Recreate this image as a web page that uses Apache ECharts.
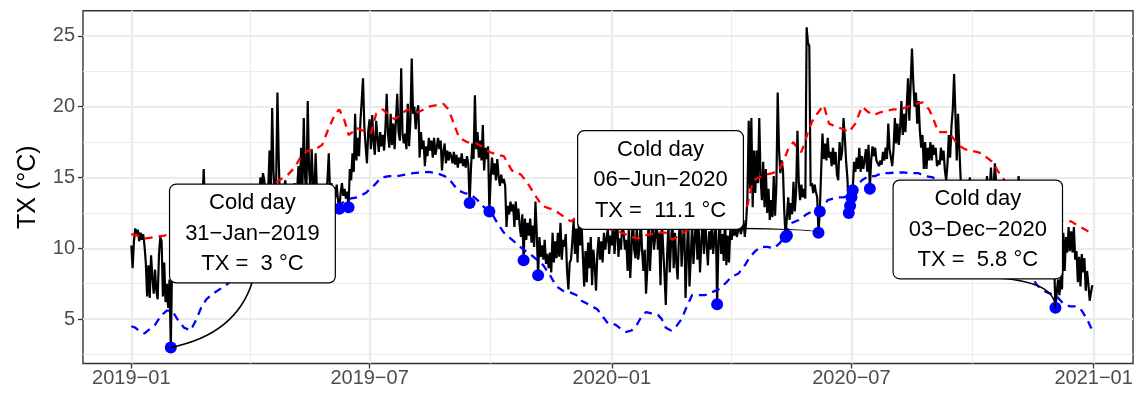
<!DOCTYPE html>
<html>
<head>
<meta charset="utf-8">
<script src="https://cdn.jsdelivr.net/npm/echarts@6/dist/echarts.min.js"></script>
<style>
  html, body { margin: 0; padding: 0; background: #fff; }
  #chart { width: 1140px; height: 394px; }
</style>
</head>
<body>
<div id="chart"></div>
<script>
// daily maximum temperature, one value per day from 2019-01-01
const tx2019 = [
  10.2, 8.6, 10.5, 11.4, 11.0, 11.3, 10.5, 11.1, 10.6, 11.0, 10.2, 9.0, 6.6, 8.8, 6.5, 9.5, 8.0, 6.8, 8.5, 7.0, 6.4, 9.5, 10.8, 10.5, 6.6, 9.0, 6.2, 7.5, 5.8, 7.8, 3.0,
  9.0, 10.5, 11.2, 9.8, 10.6, 12.0, 11.4, 9.6, 10.2, 11.8, 12.5, 11.0, 10.4, 9.7, 11.3, 12.2, 13.0, 11.6, 10.8, 12.4, 13.6, 12.1, 11.5, 13.2, 15.6, 12.8, 11.9, 12.6,
  11.5, 12.8, 10.9, 9.8, 11.2, 12.6, 13.4, 12.0, 10.7, 11.9, 13.1, 12.3, 9.9, 10.8, 12.7, 13.8, 12.9, 11.4, 10.6, 12.2, 13.5, 14.1, 12.6, 11.8, 13.0, 14.2, 13.3, 12.1, 11.0, 12.4, 13.7,
  12.5, 13.6, 12.2, 11.4, 12.9, 14.0, 13.2, 12.6, 15.0, 14.2, 15.3, 14.8, 13.5, 12.8, 14.1, 16.9, 13.9, 19.9, 15.4, 13.6, 14.5, 21.0, 16.2, 13.0, 12.4, 13.8, 14.3, 14.8, 13.6, 14.2,
  13.2, 14.5, 12.6, 13.9, 14.6, 13.1, 14.2, 15.8, 14.0, 17.1, 14.3, 19.2, 15.0, 13.8, 20.4, 15.6, 14.2, 17.0, 14.6, 13.2, 16.7, 14.1, 13.5, 12.8, 14.4, 13.6, 12.9, 14.2, 13.7, 14.8, 16.7,
  13.9, 14.6, 13.2, 14.3, 13.6, 14.5, 13.4, 12.8, 13.9, 14.6, 13.7, 14.2, 13.5, 14.0, 12.9, 15.6, 14.8, 16.7, 15.4, 19.5, 16.2, 17.8, 16.5, 18.9, 20.4, 22.0, 18.6, 17.2, 16.0, 18.3,
  19.1, 17.0, 19.4, 17.5, 16.6, 19.0, 17.8, 16.8, 18.2, 17.2, 18.0, 16.9, 18.4, 20.9, 18.0, 17.1, 19.5, 17.3, 18.8, 17.0, 19.0, 20.9, 18.2, 17.6, 22.7, 18.1, 17.4, 18.1, 17.0, 20.2, 17.2,
  19.0, 23.4, 19.5, 20.0, 18.4, 19.6, 20.1, 16.4, 18.2, 17.0, 17.6, 15.8, 17.2, 16.5, 17.8, 16.9, 17.6, 16.4, 17.8, 16.6, 17.1, 17.8, 17.0, 17.6, 15.5, 16.8, 17.4, 16.0, 16.9, 16.2, 16.8,
  16.5, 16.0, 16.8, 15.9, 16.6, 15.7, 16.4, 16.0, 16.7, 15.8, 16.3, 15.7, 16.5, 15.9, 13.2, 15.6, 17.4, 16.3, 20.8, 17.0, 18.2, 16.4, 17.6, 16.2, 18.7, 15.5, 17.1, 16.3, 17.2, 12.6,
  15.0, 16.4, 15.2, 16.0, 14.8, 16.3, 15.1, 14.4, 15.2, 14.6, 14.9, 14.4, 11.5, 13.0, 12.4, 13.3, 12.6, 13.1, 11.5, 13.3, 12.0, 12.8, 11.6, 10.8, 12.4, 9.15, 12.1, 10.6, 11.8, 10.9, 12.1,
  10.4, 11.6, 10.1, 13.3, 11.0, 8.1, 10.8, 9.4, 10.2, 9.2, 10.6, 8.9, 9.6, 8.6, 9.7, 8.3, 11.1, 9.0, 10.5, 9.3, 11.1, 9.4, 11.8, 9.2, 10.6, 10.1, 11.0, 8.4, 7.1, 9.0,
  9.2, 10.5, 12.0, 9.6, 11.4, 9.0, 12.1, 10.2, 11.8, 9.5, 7.3, 9.8, 7.6, 10.4, 8.6, 10.8, 7.4, 9.9, 8.8, 7.0, 9.6, 10.8, 9.2, 10.5, 9.0, 11.1, 9.9, 10.7, 11.4, 9.6, 10.9
];
const tx2020 = [
  10.2, 12.3, 9.6, 10.8, 12.6, 9.4, 10.7, 9.9, 12.0, 11.1, 9.9, 10.6, 8.4, 11.8, 7.9, 10.0, 12.4, 9.9, 9.3, 11.6, 9.2, 9.9, 12.2, 9.8, 8.4, 9.9, 6.8, 8.6, 12.5, 8.4, 10.6,
  11.8, 9.9, 10.8, 12.4, 9.9, 11.1, 7.4, 12.1, 10.0, 8.2, 6.0, 9.5, 11.6, 8.3, 10.4, 12.2, 8.6, 11.1, 9.0, 7.8, 10.9, 12.4, 8.7, 10.6, 11.8, 6.5, 9.4, 12.3, 7.3,
  9.4, 11.8, 8.9, 10.6, 12.3, 9.2, 11.5, 8.3, 10.4, 12.0, 9.6, 11.9, 10.3, 8.8, 11.2, 9.9, 12.1, 9.6, 10.8, 11.7, 6.05, 10.4, 12.2, 9.6, 11.0, 9.1, 12.4, 8.8, 10.9, 9.0, 11.3,
  10.6, 11.4, 10.9, 11.5, 10.8, 11.3, 11.6, 11.0, 11.4, 12.0, 10.8, 11.8, 13.5, 19.0, 14.2, 19.2, 12.9, 16.9, 13.9, 16.9, 14.6, 19.2, 15.0, 13.4, 16.1, 12.9, 15.6, 12.5, 14.2, 12.0,
  13.4, 12.2, 15.1, 12.3, 14.4, 21.0, 17.0, 15.3, 16.2, 15.5, 12.6, 10.8, 10.9, 13.6, 12.0, 13.2, 12.4, 14.7, 12.6, 14.0, 18.3, 14.7, 13.4, 14.5, 13.6, 14.2, 13.5, 25.6, 24.5, 24.3, 14.4,
  14.6, 13.9, 14.5, 14.0, 13.6, 11.1, 12.6, 15.4, 18.1, 16.3, 17.4, 16.2, 17.8, 16.4, 16.8, 15.8, 17.1, 15.9, 16.8, 15.2, 14.8, 17.5, 16.2, 16.9, 19.2, 17.8, 16.1, 14.9, 12.5, 13.0,
  13.6, 14.1, 16.1, 15.4, 16.4, 15.6, 17.1, 15.4, 16.5, 15.6, 16.2, 17.0, 15.4, 17.3, 14.2, 16.2, 17.2, 16.5, 17.1, 16.2, 16.0, 15.8, 16.2, 15.9, 16.8, 16.2, 17.1, 16.3, 18.8, 17.0, 17.1,
  15.8, 17.0, 19.2, 17.4, 18.8, 17.3, 18.5, 20.4, 18.0, 19.5, 18.2, 20.0, 22.0, 19.0, 21.6, 24.1, 21.7, 20.0, 21.0, 18.8, 20.4, 18.3, 17.1, 18.0, 15.6, 17.5, 15.6, 17.1, 16.2, 17.5, 16.2,
  17.3, 16.6, 17.1, 15.8, 16.2, 15.9, 17.1, 16.2, 16.9, 15.5, 14.8, 16.0, 18.0, 16.4, 18.6, 19.8, 22.3, 19.5, 16.2, 19.5, 17.0, 14.9, 13.8, 12.9, 14.2, 13.1, 12.4, 14.0, 15.0, 13.6,
  12.8, 14.1, 13.2, 12.4, 13.8, 14.4, 13.0, 12.2, 13.5, 14.2, 13.1, 15.1, 13.4, 14.0, 15.7, 13.8, 14.3, 16.0, 14.5, 13.2, 12.6, 13.7, 12.1, 11.5, 12.8, 13.4, 12.0, 11.2, 12.5, 13.1, 11.8,
  12.6, 13.4, 12.1, 13.0, 15.1, 12.8, 11.6, 12.4, 11.2, 10.6, 11.8, 12.3, 10.9, 11.5, 10.2, 11.0, 12.0, 10.8, 9.9, 10.6, 11.4, 10.1, 9.6, 10.4, 11.1, 9.8, 10.3, 9.4, 10.0, 9.2,
  9.6, 8.9, 5.8, 6.9, 7.8, 6.7, 8.0, 7.1, 11.1, 8.4, 10.8, 9.7, 11.5, 9.8, 11.2, 9.7, 11.5, 9.2, 9.8, 7.6, 9.4, 7.3, 9.6, 8.3, 9.3, 7.0, 8.4, 7.5, 6.3, 6.9, 7.4
];

// thresholds: [day of year, value]
const upper2019 = [[0,11.0],[5,10.9],[11,10.7],[18,10.8],[25,10.9],[31,11.0],[36,11.1],[41,11.1],[46,10.7],[51,10.9],[56,11.2],[62,11.4],[70,11.7],[78,12.0],[86,12.3],[94,12.7],[100,13.3],[104,14.0],[109,14.6],[114,14.9],[119,15.2],[124,15.7],[129,16.5],[134,16.9],[140,17.0],[145,17.3],[150,18.5],[155,19.5],[158,19.8],[162,19.0],[165,18.0],[168,18.2],[171,18.5],[176,18.3],[182,18.1],[186,19.5],[191,19.8],[196,19.4],[200,19.1],[205,19.5],[210,19.8],[218,19.6],[226,20.0],[232,20.1],[237,20.2],[241,19.8],[245,18.8],[249,17.8],[255,17.5],[262,17.4],[268,17.1],[272,16.8],[278,16.6],[283,16.5],[289,15.5],[296,15.2],[301,14.6],[305,14.0],[312,13.0],[318,12.8],[323,12.6],[329,12.2],[334,11.9],[338,12.2],[343,11.9],[348,11.7],[353,11.5],[358,11.5],[363,11.4]];
const upper2020 = [[0,11.3],[5,11.2],[10,11.0],[15,10.8],[20,10.7],[25,10.9],[30,11.0],[36,11.1],[41,11.1],[46,10.6],[51,10.9],[56,11.2],[62,11.5],[70,11.7],[78,12.0],[86,12.3],[94,12.6],[100,12.9],[103,13.0],[106,14.3],[108,14.8],[112,15.0],[117,15.2],[122,15.3],[127,15.5],[131,16.3],[134,17.0],[138,17.5],[141,17.0],[144,16.8],[147,17.6],[150,18.5],[153,19.1],[156,19.5],[161,20.1],[165,18.8],[170,18.6],[176,18.4],[180,18.2],[185,18.8],[190,20.0],[195,19.6],[199,19.4],[204,19.6],[208,19.7],[214,19.8],[219,19.8],[225,20.0],[231,20.2],[236,20.3],[241,19.8],[244,19.2],[248,18.2],[252,18.2],[256,18.2],[263,17.3],[268,17.0],[272,16.9],[277,16.8],[281,16.7],[285,16.4],[289,16.1],[295,15.2],[300,14.6],[305,14.0],[312,13.0],[318,12.8],[323,12.6],[329,12.3],[334,12.0],[339,12.0],[344,11.9],[349,11.9],[354,11.6],[360,11.3],[365,11.0]];
const lower2019 = [[0,4.5],[3,4.4],[7,4.1],[10,4.0],[14,4.3],[18,4.6],[23,5.3],[27,5.6],[31,5.6],[35,5.0],[40,4.4],[45,4.2],[49,4.9],[53,5.8],[57,6.4],[62,6.8],[67,7.1],[72,7.4],[77,7.8],[82,8.1],[88,8.4],[94,8.8],[100,9.4],[106,9.8],[112,10.1],[118,10.1],[124,10.2],[130,10.8],[136,11.6],[142,12.0],[148,12.5],[154,12.9],[160,13.2],[166,13.5],[172,13.6],[178,13.9],[184,14.4],[190,15.0],[196,15.1],[202,15.1],[208,15.2],[214,15.3],[220,15.35],[226,15.4],[232,15.3],[238,15.1],[243,14.7],[248,14.1],[253,13.9],[258,13.8],[263,13.4],[268,12.9],[273,12.6],[278,11.8],[283,11.1],[288,10.7],[293,10.3],[298,9.9],[303,9.6],[308,9.2],[313,8.8],[318,8.1],[323,7.3],[328,7.0],[333,6.9],[338,6.7],[342,6.3],[346,6.1],[350,5.9],[354,5.7],[358,5.2],[362,4.7]];
const lower2020 = [[0,4.7],[3,4.6],[7,4.3],[11,4.1],[15,4.2],[19,4.6],[22,5.1],[26,5.5],[30,5.4],[35,5.3],[38,5.0],[41,4.4],[45,4.2],[49,4.5],[53,5.0],[57,5.9],[61,6.7],[66,6.7],[71,6.7],[76,6.9],[81,7.1],[86,7.5],[91,8.0],[96,8.2],[101,8.8],[105,9.4],[109,9.8],[113,10.1],[118,10.1],[123,10.0],[128,10.4],[132,11.1],[137,11.8],[142,12.0],[148,12.4],[154,12.7],[160,12.8],[164,13.4],[168,13.5],[172,13.6],[176,13.6],[180,13.7],[184,14.2],[190,14.8],[195,15.1],[200,15.1],[205,15.3],[210,15.3],[216,15.35],[222,15.35],[228,15.3],[233,15.3],[238,15.1],[244,15.0],[248,14.4],[253,13.9],[258,13.8],[263,13.4],[268,12.9],[273,12.4],[278,11.8],[283,11.1],[288,10.7],[293,10.3],[298,9.9],[303,9.6],[308,9.2],[313,8.8],[318,8.1],[323,7.4],[328,7.0],[333,6.8],[338,6.6],[343,6.1],[348,5.9],[353,5.9],[357,5.6],[361,5.0],[365,4.2]];

const coldDays = ['2019-01-31', '2019-06-08', '2019-06-15', '2019-09-15', '2019-09-30', '2019-10-26', '2019-11-06',
  '2020-03-21', '2020-05-12', '2020-05-13', '2020-06-06', '2020-06-07', '2020-06-29', '2020-06-30', '2020-07-01',
  '2020-07-02', '2020-07-15', '2020-12-03'];
const labelDays = ['2019-01-31', '2020-06-06', '2020-12-03'];
const xTicks = ['2019-01-01', '2019-07-01', '2020-01-01', '2020-07-01', '2021-01-01'];
const xMinor = ['2019-04-01', '2019-10-01', '2020-04-01', '2020-10-01'];
const yTicks = [5, 10, 15, 20, 25];
const yMinor = [2.5, 7.5, 12.5, 17.5, 22.5];

// where the label boxes sit (date, value) and how the connector bends
const labelAt = [['2019-04-03', 11.04], ['2020-02-07', 14.82], ['2020-10-05', 11.33]];
const labelVertFirst = [true, false, false];
const labelBend = [0.6, 1, 1];

const DAY = 864e5;
const start = Date.UTC(2019, 0, 1);
const start2020 = Date.UTC(2020, 0, 1);
const tx = tx2019.concat(tx2020);
const txData = tx.map((v, i) => [start + i * DAY, v]);
const dayIdx = s => Math.round((Date.parse(s) - start) / DAY);
const upperData = upper2019.map(d => [start + d[0] * DAY, d[1]]).concat(upper2020.map(d => [start2020 + d[0] * DAY, d[1]]));
const lowerData = lower2019.map(d => [start + d[0] * DAY, d[1]]).concat(lower2020.map(d => [start2020 + d[0] * DAY, d[1]]));
const coldData = coldDays.map(s => [Date.parse(s), tx[dayIdx(s)]]);

const MONTHS = ['Jan','Feb','Mar','Apr','May','Jun','Jul','Aug','Sep','Oct','Nov','Dec'];
function fmtDay(s) {
  const d = new Date(Date.parse(s));
  return String(d.getUTCDate()).padStart(2, '0') + '\u2212' + MONTHS[d.getUTCMonth()] + '\u2212' + d.getUTCFullYear();
}
const labelText = labelDays.map(s => 'Cold day\n' + fmtDay(s) + '\nTX =  ' + tx[dayIdx(s)] + ' \u00b0C');
const labelData = labelDays.map((s, i) => [Date.parse(labelAt[i][0]), labelAt[i][1], Date.parse(s), tx[dayIdx(s)], i]);

const xMin = start - 36.7 * DAY;
const xMax = start + 760.9 * DAY;
const yMin = 1.87, yMax = 26.77;
const FONT = '"Liberation Sans", Arial, sans-serif';

const chart = echarts.init(document.getElementById('chart'));
chart.setOption({
  animation: false,
  backgroundColor: '#fff',
  grid: { left: 83, right: 7, top: 10.7, bottom: 30.5, show: true, borderColor: '#333', borderWidth: 1.4, backgroundColor: 'transparent' },
  xAxis: [
    {
      type: 'value', min: xMin, max: xMax,
      axisLine: { show: false },
      axisTick: { show: true, customValues: xTicks.map(s => Date.parse(s)), length: 5, lineStyle: { color: '#333', width: 1.3 } },
      axisLabel: {
        customValues: xTicks.map(s => Date.parse(s)), margin: 5, color: '#4d4d4d', fontSize: 20, fontFamily: FONT,
        formatter: v => { const d = new Date(v); return d.getUTCFullYear() + '\u2212' + String(d.getUTCMonth() + 1).padStart(2, '0'); }
      },
      splitLine: { show: true, lineStyle: { color: '#ebebeb', width: 2.2 } }
    },
    {
      type: 'value', min: xMin, max: xMax, position: 'top',
      axisLine: { show: false },
      axisTick: { show: false, customValues: xMinor.map(s => Date.parse(s)) },
      axisLabel: { show: false, customValues: xMinor.map(s => Date.parse(s)) },
      splitLine: { show: true, lineStyle: { color: '#ebebeb', width: 1.1 } }
    }
  ],
  yAxis: [
    {
      type: 'value', min: yMin, max: yMax,
      name: 'TX (\u00b0C)', nameLocation: 'middle', nameGap: 42,
      nameTextStyle: { color: '#000', fontSize: 25, fontFamily: FONT },
      axisLine: { show: false },
      axisTick: { show: true, customValues: yTicks, length: 5, lineStyle: { color: '#333', width: 1.3 } },
      axisLabel: { customValues: yTicks, margin: 8, color: '#4d4d4d', fontSize: 20, fontFamily: FONT },
      splitLine: { show: true, lineStyle: { color: '#ebebeb', width: 2.2 } }
    },
    {
      type: 'value', min: yMin, max: yMax, position: 'right',
      axisLine: { show: false },
      axisTick: { show: false, customValues: yMinor },
      axisLabel: { show: false, customValues: yMinor },
      splitLine: { show: true, lineStyle: { color: '#ebebeb', width: 1.1 } }
    }
  ],
  series: [
    {
      name: 'TX', type: 'line', data: txData, symbol: 'none', z: 2,
      lineStyle: { color: '#000', width: 2.2 }
    },
    {
      name: 'upper', type: 'line', data: upperData, symbol: 'none', z: 3,
      lineStyle: { color: '#ff0000', width: 2.3, type: [8, 6] }
    },
    {
      name: 'lower', type: 'line', data: lowerData, symbol: 'none', z: 3,
      lineStyle: { color: '#0000ff', width: 2.3, type: [8, 6] }
    },
    {
      name: 'cold', type: 'scatter', data: coldData, symbol: 'circle', symbolSize: 12, z: 4,
      itemStyle: { color: '#0000ff', opacity: 1 }
    },
    {
      name: 'labels', type: 'custom', data: labelData, z: 6, clip: false,
      renderItem: (params, api) => {
        const c = api.coord([api.value(0), api.value(1)]);
        const p = api.coord([api.value(2), api.value(3)]);
        const i = api.value(4);
        const sx = c[0], sy = c[1] + 48;
        const corner = labelVertFirst[i] ? [sx, p[1]] : [p[0], sy];
        const mx = (sx + p[0]) / 2, my = (sy + p[1]) / 2;
        const k = labelBend[i];
        return {
          type: 'group',
          children: [
            {
              type: 'bezierCurve',
              shape: { x1: sx, y1: sy, x2: p[0], y2: p[1], cpx1: mx + k * (corner[0] - mx), cpy1: my + k * (corner[1] - my) },
              style: { stroke: '#000', lineWidth: 1.6, fill: null }
            },
            {
              type: 'text', x: c[0], y: c[1],
              style: {
                text: labelText[i], align: 'center', verticalAlign: 'middle',
                fontSize: 22, fontFamily: FONT, lineHeight: 30.5, fill: '#000',
                backgroundColor: '#fff', borderColor: '#000', borderWidth: 1.2, borderRadius: 6,
                padding: [3, 15]
              }
            }
          ]
        };
      }
    }
  ]
});
</script>
</body>
</html>
